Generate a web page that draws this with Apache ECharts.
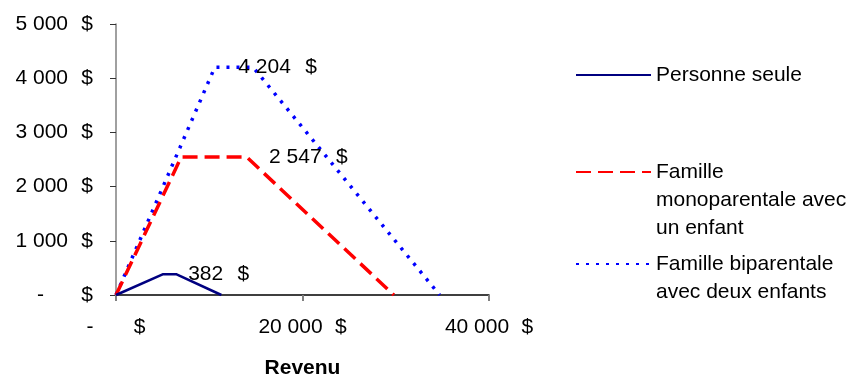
<!DOCTYPE html>
<html>
<head>
<meta charset="utf-8">
<script src="https://cdn.jsdelivr.net/npm/echarts@6/dist/echarts.min.js"></script>
<style>
  html, body { margin: 0; padding: 0; background: #fff; }
  #chart { width: 854px; height: 377px; }
</style>
</head>
<body>
<div id="chart"></div>
<script>
// Montant de la prestation selon le revenu, par type de ménage
const seriesNames = [
  'Personne seule',
  'Famille monoparentale avec un enfant',
  'Famille biparentale avec deux enfants'
];
const legendTexts = [
  'Personne seule',
  '\n\nFamille\nmonoparentale avec\nun enfant',
  '\nFamille biparentale\navec deux enfants'
];

const seuleRevenu = [0, 5000, 6500, 11300];
const seuleMontant = [0, 382, 382, 0];

const monoRevenu = [0, 7000, 14000, 29800];
const monoMontant = [0, 2547, 2547, 0];

const biRevenu = [0, 10600, 14700, 34700];
const biMontant = [0, 4204, 4204, 0];

// point carrying the value label in each series
const labelIndex = [1, 2, 1];
const labelDistance = [25, 22, 23];

const xTicks = [0, 20000, 40000];
const yTicks = [0, 1000, 2000, 3000, 4000, 5000];

const FONT = "'Liberation Sans', Arial, sans-serif";

function fmtThousands(v) {
  return String(Math.round(v)).replace(/\B(?=(\d{3})+(?!\d))/g, ' ');
}

function pairs(xs, ys) {
  return xs.map(function (x, i) { return [x, ys[i]]; });
}

// invisible marker holding the "montant  $" label of one point
function valueLabel(xs, ys, idx, dist) {
  return {
    silent: true,
    symbol: 'circle',
    symbolSize: 1,
    itemStyle: { color: 'rgba(0,0,0,0)' },
    label: {
      show: true,
      position: 'right',
      distance: dist,
      formatter: function (p) {
        return '{n|' + fmtThousands(p.value) + '}{s|$}';
      },
      rich: {
        n: { fontSize: 21, fontFamily: FONT, color: '#000', lineHeight: 24 },
        s: { fontSize: 21, fontFamily: FONT, color: '#000', lineHeight: 24, width: 26, align: 'right' }
      }
    },
    data: [{ coord: [xs[idx], ys[idx]], value: ys[idx] }]
  };
}

const chart = echarts.init(document.getElementById('chart'), null, { renderer: 'canvas' });

const legendBase = {
  orient: 'vertical',
  left: 575,
  padding: 0,
  itemWidth: 75,
  itemHeight: 14,
  selectedMode: false,
  itemStyle: { color: 'rgba(0,0,0,0)', borderWidth: 0, opacity: 0 },
  textStyle: { fontSize: 21, fontFamily: FONT, color: '#000', lineHeight: 28 },
  formatter: function (name) { return legendTexts[seriesNames.indexOf(name)]; }
};

chart.setOption({
  animation: false,
  backgroundColor: '#fff',
  grid: { left: 116, right: 365, top: 24, bottom: 82, containLabel: false, outerBoundsMode: 'none' },
  legend: [
    Object.assign({}, legendBase, { top: 61, data: [seriesNames[0]] }),
    Object.assign({}, legendBase, { top: 102, data: [seriesNames[1]] }),
    Object.assign({}, legendBase, { top: 222, data: [seriesNames[2]] })
  ],
  xAxis: {
    type: 'value',
    min: xTicks[0],
    max: xTicks[xTicks.length - 1],
    interval: xTicks[1] - xTicks[0],
    name: 'Revenu',
    nameLocation: 'middle',
    nameGap: 63,
    nameTextStyle: { fontSize: 21, fontWeight: 'bold', fontFamily: FONT, color: '#000' },
    axisLine: { show: true, onZero: false, lineStyle: { color: '#000', width: 1.5 } },
    axisTick: { show: true, length: 6, lineStyle: { color: '#808080', width: 2 } },
    splitLine: { show: false },
    axisLabel: {
      margin: 22,
      showMaxLabel: true,
      showMinLabel: true,
      formatter: function (v) {
        if (v === 0) return '{z|-}{s0|$}';
        return '{n|' + fmtThousands(v) + '}{s|$}';
      },
      rich: {
        z: { fontSize: 21, fontFamily: FONT, color: '#000', lineHeight: 21 },
        s0: { fontSize: 21, fontFamily: FONT, color: '#000', lineHeight: 21, width: 52, align: 'right' },
        n: { fontSize: 21, fontFamily: FONT, color: '#000', lineHeight: 21 },
        s: { fontSize: 21, fontFamily: FONT, color: '#000', lineHeight: 21, width: 24, align: 'right' }
      }
    }
  },
  yAxis: {
    type: 'value',
    min: yTicks[0],
    max: yTicks[yTicks.length - 1],
    interval: yTicks[1] - yTicks[0],
    axisLine: { show: true, lineStyle: { color: '#808080', width: 1.5 } },
    axisTick: { show: true, length: 6, lineStyle: { color: '#333', width: 1 } },
    splitLine: { show: false },
    axisLabel: {
      margin: 23,
      formatter: function (v) {
        if (v === 0) return '{z|-}{s|$}';
        return '{n|' + fmtThousands(v) + '}{s|$}';
      },
      rich: {
        z: { fontSize: 21, fontFamily: FONT, color: '#000', lineHeight: 21, width: 55, align: 'center' },
        n: { fontSize: 21, fontFamily: FONT, color: '#000', lineHeight: 21, width: 55, align: 'right' },
        s: { fontSize: 21, fontFamily: FONT, color: '#000', lineHeight: 21, width: 25, align: 'right' }
      }
    }
  },
  series: [
    {
      name: seriesNames[0],
      type: 'line',
      symbol: 'none',
      z: 4,
      color: '#000080',
      lineStyle: { color: '#000080', width: 2.5, type: 'solid' },
      data: pairs(seuleRevenu, seuleMontant),
      markPoint: valueLabel(seuleRevenu, seuleMontant, labelIndex[0], labelDistance[0])
    },
    {
      name: seriesNames[1],
      type: 'line',
      symbol: 'none',
      z: 3,
      color: '#ff0000',
      lineStyle: { color: '#ff0000', width: 3.5, type: [15, 7] },
      data: pairs(monoRevenu, monoMontant),
      markPoint: valueLabel(monoRevenu, monoMontant, labelIndex[1], labelDistance[1])
    },
    {
      name: seriesNames[2],
      type: 'line',
      symbol: 'none',
      z: 2,
      color: '#0000ff',
      lineStyle: { color: '#0000ff', width: 3.5, type: [3, 7] },
      data: pairs(biRevenu, biMontant),
      markPoint: valueLabel(biRevenu, biMontant, labelIndex[2], labelDistance[2])
    }
  ]
});
</script>
</body>
</html>
